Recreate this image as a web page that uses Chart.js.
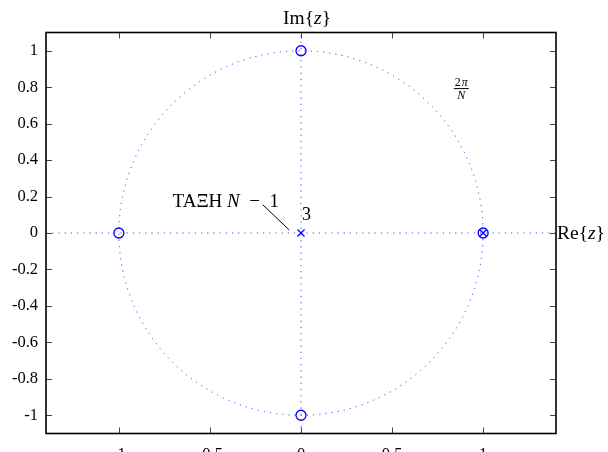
<!DOCTYPE html>
<html>
<head>
<meta charset="utf-8">
<script src="https://cdn.jsdelivr.net/npm/chart.js@4.4.0/dist/chart.umd.min.js"></script>
<style>
    html, body { margin: 0; padding: 0; background: #fff; overflow: hidden; }
    #wrap { width: 608px; height: 452px; overflow: hidden; position: relative; }
    canvas { display: block; }
</style>
</head>
<body>
<div id="wrap"><canvas id="pz" width="608" height="470"></canvas></div>
<script>
// axis ticks
const xTickValues = [-1, -0.5, 0, 0.5, 1];
const xTickLabels = ['-1', '-0.5', '0', '0.5', '1'];
const yTickValues = [1, 0.8, 0.6, 0.4, 0.2, 0, -0.2, -0.4, -0.6, -0.8, -1];
const yTickLabels = ['1', '0.8', '0.6', '0.4', '0.2', '0', '-0.2', '-0.4', '-0.6', '-0.8', '-1'];

// zeros (o) and poles (x) in the z-plane
const zerosRe = [1, 0, -1, 0];
const zerosIm = [0, 1, 0, -1];
const polesRe = [0, 1];
const polesIm = [0, 0];
const poleOrder = '3';

// unit circle and the two dotted axes
const unitRadius = 1;
const reAxisRe = [-1.4, 1.4];
const reAxisIm = [0, 0];
const imAxisRe = [0, 0];
const imAxisIm = [-1.1, 1.1];

const SERIF = '"Liberation Serif", "DejaVu Serif", serif';
const BLUE = '#0000ff';
const DOT_BLUE = 'rgba(40, 40, 255, 0.85)';

const toPts = (xs, ys) => xs.map((x, i) => ({ x: x, y: ys[i] }));

// frame, inner ticks, unit circle and text labels
const planeDecor = {
    id: 'planeDecor',
    beforeDatasetsDraw(chart) {
        const { ctx, scales: { x, y } } = chart;
        const cx = x.getPixelForValue(0), cy = y.getPixelForValue(0);
        const rx = x.getPixelForValue(unitRadius) - cx;
        const ry = cy - y.getPixelForValue(unitRadius);
        ctx.save();
        ctx.strokeStyle = DOT_BLUE;
        ctx.lineWidth = 1;
        ctx.setLineDash([1.2, 5]);
        ctx.beginPath();
        ctx.ellipse(cx, cy, rx, ry, 0, 0, Math.PI * 2);
        ctx.stroke();
        ctx.restore();
    },
    afterDraw(chart) {
        const { ctx, chartArea: a, scales: { x, y } } = chart;
        ctx.save();

        // inner tick marks
        ctx.strokeStyle = '#444';
        ctx.lineWidth = 1;
        ctx.beginPath();
        xTickValues.forEach(v => {
            const px = Math.round(x.getPixelForValue(v)) + 0.5;
            ctx.moveTo(px, a.top); ctx.lineTo(px, a.top + 6);
            ctx.moveTo(px, a.bottom); ctx.lineTo(px, a.bottom - 6);
        });
        yTickValues.forEach(v => {
            const py = Math.round(y.getPixelForValue(v)) + 0.5;
            ctx.moveTo(a.left, py); ctx.lineTo(a.left + 6, py);
            ctx.moveTo(a.right, py); ctx.lineTo(a.right - 6, py);
        });
        ctx.stroke();

        // frame
        ctx.strokeStyle = '#000';
        ctx.lineWidth = 1.6;
        ctx.strokeRect(a.left, a.top, a.right - a.left, a.bottom - a.top);

        ctx.fillStyle = '#000';
        ctx.textBaseline = 'alphabetic';

        const drawParts = (parts, x0, yb) => {
            let xx = x0;
            parts.forEach(([txt, font]) => {
                ctx.font = font;
                ctx.fillText(txt, xx, yb);
                xx += ctx.measureText(txt).width;
            });
        };
        const partsWidth = parts => parts.reduce((w, [txt, font]) => {
            ctx.font = font; return w + ctx.measureText(txt).width;
        }, 0);

        // Im{z} above, Re{z} to the right
        const up = '19.5px ' + SERIF, it = 'italic 19.5px ' + SERIF;
        const imParts = [['Im{', up], ['z', it], ['}', up]];
        drawParts(imParts, (a.left + a.right) / 2 - partsWidth(imParts) / 2 + 6, a.top - 9);
        const reParts = [['Re{', up], ['z', it], ['}', up]];
        drawParts(reParts, a.right + 1, y.getPixelForValue(0) + 6);

        // order label of the pole at the origin
        ctx.font = '18px ' + SERIF;
        ctx.textAlign = 'left';
        ctx.fillText(poleOrder, x.getPixelForValue(0.005), y.getPixelForValue(0.07));

        // "ΤΑΞΗ N − 1" with leader line to the pole
        const bu = '19px ' + SERIF, bi = 'italic 19px ' + SERIF;
        drawParts([['ΤΑΞΗ ', bu], ['N', bi], ['\u2002−\u20021', bu]],
                  x.getPixelForValue(-0.705), y.getPixelForValue(0.145));
        ctx.strokeStyle = '#000';
        ctx.lineWidth = 1;
        ctx.beginPath();
        ctx.moveTo(x.getPixelForValue(-0.21), y.getPixelForValue(0.155));
        ctx.lineTo(x.getPixelForValue(-0.065), y.getPixelForValue(0.017));
        ctx.stroke();

        // 2π/N fraction
        const fx = x.getPixelForValue(0.88), fy = y.getPixelForValue(0.795);
        ctx.textAlign = 'center';
        ctx.font = '12px ' + SERIF;
        ctx.fillText('2', fx - 3.5, fy - 2);
        ctx.font = 'italic 12px ' + SERIF;
        ctx.fillText('π', fx + 3.5, fy - 2);
        ctx.fillText('N', fx, fy + 11);
        ctx.beginPath();
        ctx.moveTo(fx - 7.5, fy + 0.5); ctx.lineTo(fx + 7.5, fy + 0.5);
        ctx.stroke();

        ctx.restore();
    }
};

new Chart(document.getElementById('pz'), {
    type: 'scatter',
    data: {
        datasets: [
            {
                data: toPts(reAxisRe, reAxisIm),
                showLine: true, borderColor: DOT_BLUE, borderWidth: 1,
                borderDash: [1.2, 5], pointRadius: 0
            },
            {
                data: toPts(imAxisRe, imAxisIm),
                showLine: true, borderColor: DOT_BLUE, borderWidth: 1,
                borderDash: [1.2, 5], pointRadius: 0
            },
            {
                data: toPts(zerosRe, zerosIm),
                pointStyle: 'circle', pointRadius: 5,
                borderColor: BLUE, backgroundColor: 'rgba(0,0,0,0)', borderWidth: 1.3
            },
            {
                data: toPts(polesRe, polesIm),
                pointStyle: 'crossRot', pointRadius: 5,
                borderColor: BLUE, borderWidth: 1.3
            }
        ]
    },
    options: {
        responsive: false,
        animation: false,
        events: [],
        layout: { padding: { top: 32.5, right: 52, left: 0, bottom: 0 } },
        plugins: { legend: { display: false }, tooltip: { enabled: false } },
        scales: {
            x: {
                type: 'linear', min: -1.4, max: 1.4,
                afterBuildTicks: s => { s.ticks = xTickValues.map(v => ({ value: v })); },
                afterFit: s => { s.height = 470 - 433.5; },
                ticks: {
                    color: '#000', padding: 11, maxRotation: 0,
                    font: { family: SERIF, size: 16.5 },
                    callback: v => xTickLabels[xTickValues.indexOf(v)]
                },
                grid: { display: false, drawTicks: false },
                border: { display: false }
            },
            y: {
                type: 'linear', min: -1.1, max: 1.1,
                afterBuildTicks: s => { s.ticks = yTickValues.map(v => ({ value: v })); },
                afterFit: s => { s.width = 46; },
                ticks: {
                    color: '#000', padding: 8,
                    font: { family: SERIF, size: 16.5 },
                    callback: v => yTickLabels[yTickValues.indexOf(v)]
                },
                grid: { display: false, drawTicks: false },
                border: { display: false }
            }
        }
    },
    plugins: [planeDecor]
});
</script>
</body>
</html>
